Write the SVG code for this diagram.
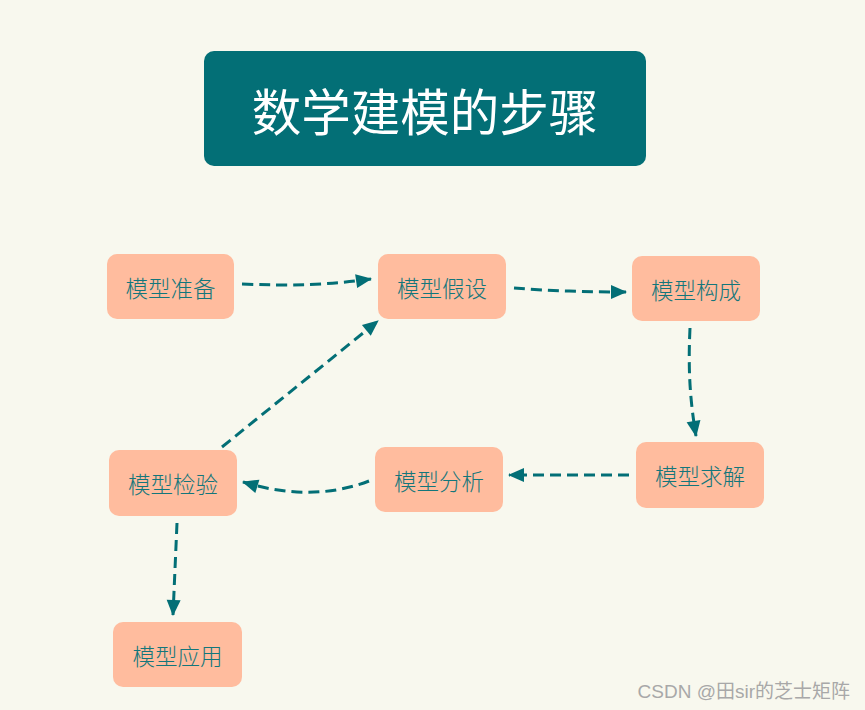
<svg xmlns="http://www.w3.org/2000/svg" width="865" height="710" viewBox="0 0 865 710">
<defs>
<style>
.node rect{fill:#FFBC9E;}
.node text{fill:#13767B;font-family:"Noto Sans CJK SC",sans-serif;font-weight:300;font-size:22.5px;text-anchor:middle;dominant-baseline:central;}
.edge{fill:none;stroke:#036F76;stroke-width:3;stroke-dasharray:11 6;marker-end:url(#ah);}
</style>
<marker id="ah" markerUnits="userSpaceOnUse" markerWidth="18" markerHeight="18" viewBox="0 0 18 18" refX="16" refY="9" orient="auto">
<path d="M1,2 L17,9 L1,16 Z" fill="#036F76"/>
</marker>
</defs>
<rect width="865" height="710" fill="#F8F8EE"/>
<g id="title">
<rect x="204" y="51" width="442" height="115" rx="10" fill="#036F76"/>
<text x="425" y="109" fill="#FFFFFF" font-family="Noto Sans CJK SC,sans-serif" font-weight="400" font-size="49.5" text-anchor="middle" dominant-baseline="central">数学建模的步骤</text>
</g>
<g id="connectors">
<path class="edge" d="M242,284 C290,286 330,285 371,279"/>
<path class="edge" d="M514,288 C550,291 590,292 626,292"/>
<path class="edge" d="M690,328 C688,370 690,400 696,436"/>
<path class="edge" d="M629,475 L509,475"/>
<path class="edge" d="M369,481 Q312,503 243,482"/>
<path class="edge" d="M222,447 L378,321"/>
<path class="edge" d="M177,523 L173,615"/>
</g>
<g id="n1" class="node"><rect x="107" y="254" width="127" height="65" rx="10"/><text x="170.5" y="287">模型准备</text></g>
<g id="n2" class="node"><rect x="378" y="254" width="128" height="65" rx="10"/><text x="442" y="287">模型假设</text></g>
<g id="n3" class="node"><rect x="632" y="256" width="128" height="65" rx="10"/><text x="696" y="289">模型构成</text></g>
<g id="n4" class="node"><rect x="636" y="442" width="128" height="66" rx="10"/><text x="700" y="475">模型求解</text></g>
<g id="n5" class="node"><rect x="375" y="447" width="128" height="65" rx="10"/><text x="439" y="480">模型分析</text></g>
<g id="n6" class="node"><rect x="109" y="450" width="128" height="66" rx="10"/><text x="173" y="483">模型检验</text></g>
<g id="n7" class="node"><rect x="113" y="622" width="129" height="65" rx="10"/><text x="177.5" y="655">模型应用</text></g>
<text x="850" y="698" fill="#A8A8A8" font-family="Liberation Sans,Noto Sans CJK SC,sans-serif" font-size="19" text-anchor="end">CSDN @田sir的芝士矩阵</text>
</svg>
